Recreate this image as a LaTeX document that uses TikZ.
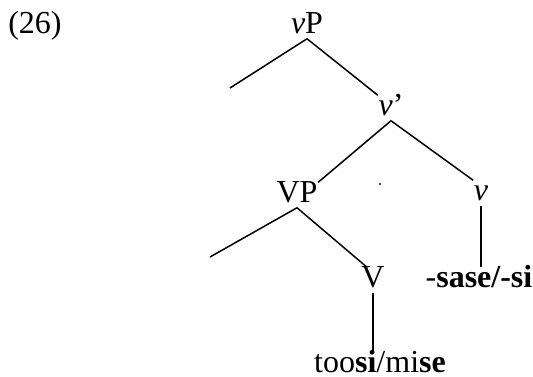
\documentclass[tikz,border=0pt]{standalone}
\usepackage{fontspec}
\setmainfont{Liberation Serif}

\begin{document}
\begin{tikzpicture}[x=0.5pt, y=-0.5pt, line width=0.75pt, every node/.style={font=\fontsize{16}{19}\selectfont, anchor=base, inner xsep=0pt, inner ysep=2.5pt, text height=0.7em, text depth=0pt}]
	\useasboundingbox (0,0) rectangle (533,376);
	\node (ex) at (35,33) {(26)};
	\node (vP) at (307,33) {\textit{v}P};
	\coordinate (vPspec) at (230,88);
	\node (vbar) at (391,115) {\textit{v}’};
	\node (VP) at (297,202) {VP};
	\coordinate (VPspec) at (210,257);
	\node (vhead) at (481,200) {\textit{v}};
	\node (V) at (373,287) {V};
	\node (suffix) at (479,287) {-\textbf{sase/-si}};
	\node (stem) at (380,372) {too\textbf{si}/mi\textbf{se}};
	\fill (380,184) circle (0.6pt);
	\draw (vP.south) -- (vPspec);
	\draw (vP.south) -- (vbar.north west);
	\draw (vbar.south) -- (VP.north east);
	\draw (vbar.south) -- (vhead.north west);
	\draw (VP.south) -- (VPspec);
	\draw (VP.south) -- ([xshift=-3pt]V.north);
	\draw (vhead.south) -- (vhead.south |- suffix.north);
	\draw (V.south) -- (V.south |- stem.north);
\end{tikzpicture}
\end{document}
